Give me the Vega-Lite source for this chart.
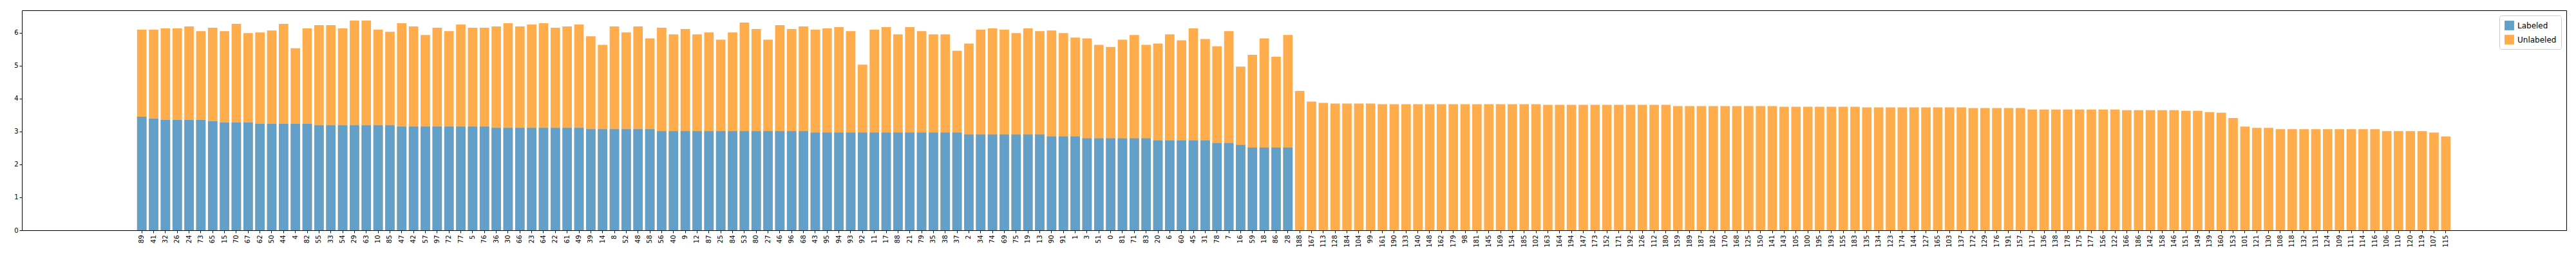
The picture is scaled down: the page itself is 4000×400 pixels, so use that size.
{
  "$schema": "https://vega.github.io/schema/vega-lite/v6.json",
  "width": 3951,
  "height": 341,
  "autosize": {"type": "none"},
  "padding": {"left": 34, "top": 16, "right": 15, "bottom": 43},
  "config": {
    "view": {"stroke": "black", "strokeWidth": 1},
    "font": "DejaVu Sans",
    "axis": {"grid": false, "domain": false, "tickColor": "black", "labelColor": "black", "labelFontSize": 10, "tickSize": 4}
  },
  "data": {
    "values": [
      {"id":"89","Labeled":3.45,"Total":6.09},{"id":"41","Labeled":3.39,"Total":6.09},{"id":"32","Labeled":3.35,"Total":6.13},{"id":"26","Labeled":3.35,"Total":6.13},{"id":"24","Labeled":3.35,"Total":6.19},{"id":"73","Labeled":3.35,"Total":6.05},{"id":"65","Labeled":3.31,"Total":6.15},{"id":"15","Labeled":3.27,"Total":6.05},{"id":"70","Labeled":3.27,"Total":6.27},{"id":"67","Labeled":3.27,"Total":5.99},
      {"id":"62","Labeled":3.23,"Total":6.01},{"id":"50","Labeled":3.23,"Total":6.07},{"id":"44","Labeled":3.23,"Total":6.27},{"id":"4","Labeled":3.23,"Total":5.53},{"id":"82","Labeled":3.23,"Total":6.13},{"id":"55","Labeled":3.19,"Total":6.23},{"id":"33","Labeled":3.19,"Total":6.23},{"id":"54","Labeled":3.19,"Total":6.13},{"id":"29","Labeled":3.19,"Total":6.37},{"id":"63","Labeled":3.19,"Total":6.37},
      {"id":"10","Labeled":3.19,"Total":6.09},{"id":"85","Labeled":3.19,"Total":6.03},{"id":"47","Labeled":3.15,"Total":6.29},{"id":"42","Labeled":3.15,"Total":6.19},{"id":"57","Labeled":3.15,"Total":5.93},{"id":"97","Labeled":3.15,"Total":6.15},{"id":"72","Labeled":3.15,"Total":6.05},{"id":"77","Labeled":3.15,"Total":6.25},{"id":"5","Labeled":3.15,"Total":6.15},{"id":"76","Labeled":3.15,"Total":6.15},
      {"id":"36","Labeled":3.11,"Total":6.19},{"id":"30","Labeled":3.11,"Total":6.29},{"id":"66","Labeled":3.11,"Total":6.19},{"id":"23","Labeled":3.11,"Total":6.25},{"id":"64","Labeled":3.11,"Total":6.29},{"id":"22","Labeled":3.11,"Total":6.15},{"id":"61","Labeled":3.11,"Total":6.19},{"id":"49","Labeled":3.11,"Total":6.25},{"id":"39","Labeled":3.07,"Total":5.89},{"id":"14","Labeled":3.07,"Total":5.63},
      {"id":"8","Labeled":3.07,"Total":6.19},{"id":"52","Labeled":3.07,"Total":6.01},{"id":"48","Labeled":3.07,"Total":6.19},{"id":"58","Labeled":3.07,"Total":5.83},{"id":"56","Labeled":3.01,"Total":6.15},{"id":"40","Labeled":3.01,"Total":5.95},{"id":"9","Labeled":3.01,"Total":6.11},{"id":"12","Labeled":3.01,"Total":5.95},{"id":"87","Labeled":3.01,"Total":6.01},{"id":"25","Labeled":3.01,"Total":5.79},
      {"id":"84","Labeled":3.01,"Total":6.01},{"id":"53","Labeled":3.01,"Total":6.31},{"id":"80","Labeled":3.01,"Total":6.11},{"id":"27","Labeled":3.01,"Total":5.79},{"id":"46","Labeled":3.01,"Total":6.23},{"id":"96","Labeled":3.01,"Total":6.11},{"id":"68","Labeled":3.01,"Total":6.19},{"id":"43","Labeled":2.97,"Total":6.09},{"id":"95","Labeled":2.97,"Total":6.13},{"id":"94","Labeled":2.97,"Total":6.17},
      {"id":"93","Labeled":2.97,"Total":6.05},{"id":"92","Labeled":2.97,"Total":5.03},{"id":"11","Labeled":2.97,"Total":6.09},{"id":"17","Labeled":2.97,"Total":6.17},{"id":"88","Labeled":2.97,"Total":5.95},{"id":"21","Labeled":2.97,"Total":6.17},{"id":"79","Labeled":2.97,"Total":6.05},{"id":"35","Labeled":2.97,"Total":5.95},{"id":"38","Labeled":2.97,"Total":5.95},{"id":"37","Labeled":2.97,"Total":5.45},
      {"id":"2","Labeled":2.91,"Total":5.67},{"id":"34","Labeled":2.91,"Total":6.09},{"id":"74","Labeled":2.91,"Total":6.13},{"id":"69","Labeled":2.91,"Total":6.09},{"id":"75","Labeled":2.91,"Total":5.99},{"id":"19","Labeled":2.91,"Total":6.13},{"id":"13","Labeled":2.91,"Total":6.05},{"id":"90","Labeled":2.85,"Total":6.07},{"id":"91","Labeled":2.85,"Total":5.99},{"id":"1","Labeled":2.85,"Total":5.85},
      {"id":"3","Labeled":2.79,"Total":5.83},{"id":"51","Labeled":2.79,"Total":5.63},{"id":"0","Labeled":2.79,"Total":5.57},{"id":"81","Labeled":2.79,"Total":5.79},{"id":"71","Labeled":2.79,"Total":5.93},{"id":"83","Labeled":2.79,"Total":5.63},{"id":"20","Labeled":2.73,"Total":5.67},{"id":"6","Labeled":2.73,"Total":5.95},{"id":"60","Labeled":2.73,"Total":5.77},{"id":"45","Labeled":2.73,"Total":6.13},
      {"id":"31","Labeled":2.73,"Total":5.81},{"id":"78","Labeled":2.65,"Total":5.59},{"id":"7","Labeled":2.65,"Total":6.05},{"id":"16","Labeled":2.59,"Total":4.97},{"id":"59","Labeled":2.51,"Total":5.33},{"id":"18","Labeled":2.51,"Total":5.83},{"id":"86","Labeled":2.51,"Total":5.27},{"id":"28","Labeled":2.51,"Total":5.93},
      {"id":"188","Total":4.23},{"id":"167","Total":3.91},{"id":"113","Total":3.87},{"id":"128","Total":3.85},{"id":"184","Total":3.85},{"id":"104","Total":3.85},{"id":"99","Total":3.85},
      {"id":"161","Total":3.83},{"id":"190","Total":3.83},{"id":"133","Total":3.83},{"id":"140","Total":3.83},{"id":"148","Total":3.83},{"id":"162","Total":3.83},{"id":"179","Total":3.83},{"id":"98","Total":3.83},{"id":"181","Total":3.83},{"id":"145","Total":3.83},{"id":"169","Total":3.83},{"id":"154","Total":3.83},{"id":"185","Total":3.83},{"id":"102","Total":3.83},
      {"id":"163","Total":3.81},{"id":"164","Total":3.81},{"id":"194","Total":3.81},{"id":"147","Total":3.81},{"id":"173","Total":3.81},{"id":"152","Total":3.81},{"id":"171","Total":3.81},{"id":"192","Total":3.81},{"id":"126","Total":3.81},{"id":"112","Total":3.81},{"id":"180","Total":3.81},
      {"id":"159","Total":3.77},{"id":"189","Total":3.77},{"id":"187","Total":3.77},{"id":"182","Total":3.77},{"id":"170","Total":3.77},{"id":"168","Total":3.77},{"id":"125","Total":3.77},{"id":"150","Total":3.77},{"id":"141","Total":3.77},
      {"id":"143","Total":3.75},{"id":"105","Total":3.75},{"id":"100","Total":3.75},{"id":"195","Total":3.75},{"id":"193","Total":3.75},{"id":"155","Total":3.75},{"id":"183","Total":3.75},
      {"id":"135","Total":3.73},{"id":"134","Total":3.73},{"id":"123","Total":3.73},{"id":"174","Total":3.73},{"id":"144","Total":3.73},{"id":"127","Total":3.73},{"id":"165","Total":3.73},{"id":"103","Total":3.73},{"id":"137","Total":3.73},
      {"id":"172","Total":3.71},{"id":"129","Total":3.71},{"id":"176","Total":3.71},{"id":"191","Total":3.71},{"id":"157","Total":3.71},
      {"id":"117","Total":3.67},{"id":"136","Total":3.67},{"id":"138","Total":3.67},{"id":"178","Total":3.67},{"id":"175","Total":3.67},{"id":"177","Total":3.67},{"id":"156","Total":3.67},{"id":"122","Total":3.67},
      {"id":"166","Total":3.65},{"id":"186","Total":3.65},{"id":"142","Total":3.65},{"id":"158","Total":3.65},{"id":"146","Total":3.65},
      {"id":"151","Total":3.63},{"id":"149","Total":3.63},{"id":"139","Total":3.59},{"id":"160","Total":3.57},{"id":"153","Total":3.41},{"id":"101","Total":3.15},{"id":"121","Total":3.11},{"id":"130","Total":3.11},
      {"id":"108","Total":3.07},{"id":"118","Total":3.07},{"id":"132","Total":3.07},{"id":"131","Total":3.07},{"id":"124","Total":3.07},{"id":"109","Total":3.07},{"id":"111","Total":3.07},{"id":"114","Total":3.07},{"id":"116","Total":3.07},
      {"id":"106","Total":3.01},{"id":"110","Total":3.01},{"id":"120","Total":3.01},{"id":"119","Total":3.01},{"id":"107","Total":2.97},{"id":"115","Total":2.85}
    ]
  },
  "encoding": {
    "x": {
      "field": "id", "type": "nominal", "sort": null, "title": null,
      "scale": {"paddingInner": 0.2, "paddingOuter": 0.1, "range": [177, 3773]},
      "axis": {"labelAngle": 270, "labelPadding": 3}
    }
  },
  "layer": [
    {
      "mark": {"type": "bar"},
      "encoding": {
        "y": {"field": "Total", "type": "quantitative", "title": null,
              "scale": {"domain": [0, 6.68], "nice": false},
              "axis": {"values": [0, 1, 2, 3, 4, 5, 6]}},
        "color": {"datum": "Unlabeled", "type": "nominal",
                  "scale": {"domain": ["Labeled", "Unlabeled"], "range": ["#62a0ca", "#feac4c"]},
                  "legend": {"title": null, "orient": "top-right", "symbolType": "square", "symbolSize": 220,
                             "labelFontSize": 12, "fillColor": "white", "strokeColor": "#cccccc",
                             "padding": 7, "cornerRadius": 3, "rowPadding": 6, "offset": 8}}
      }
    },
    {
      "mark": {"type": "bar"},
      "encoding": {
        "y": {"field": "Labeled", "type": "quantitative"},
        "color": {"datum": "Labeled", "type": "nominal"}
      }
    }
  ]
}
